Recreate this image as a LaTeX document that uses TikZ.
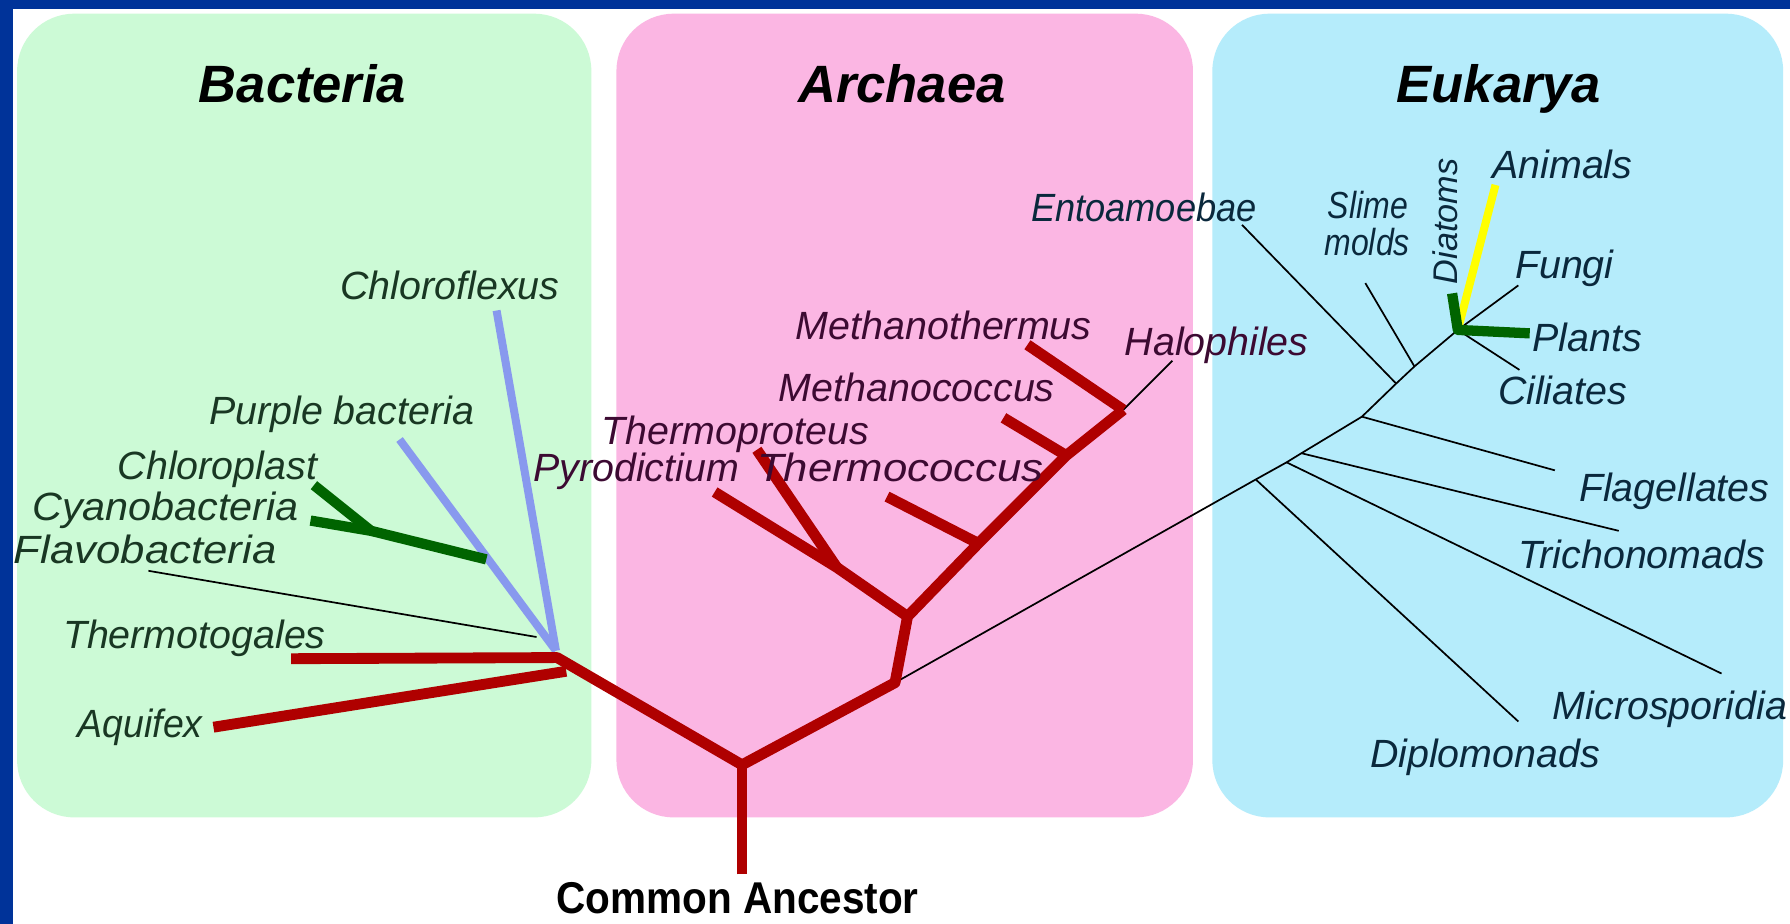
\documentclass[tikz,border=0pt]{standalone}
\usepackage{fontspec}
\setmainfont{Liberation Sans}
\definecolor{bordblue}{RGB}{0,51,153}
\definecolor{gpanel}{RGB}{204,250,214}
\definecolor{ppanel}{RGB}{251,182,227}
\definecolor{bpanel}{RGB}{181,236,251}
\definecolor{tred}{RGB}{175,0,0}
\definecolor{tblue}{RGB}{136,153,238}
\definecolor{tgreen}{RGB}{0,100,0}
\definecolor{tyellow}{RGB}{255,255,0}
\definecolor{bactxt}{RGB}{25,55,35}
\definecolor{arctxt}{RGB}{60,10,50}
\definecolor{euktxt}{RGB}{10,40,60}
\begin{document}
\begin{tikzpicture}[x=1pt,y=-1pt,
  lab/.style={font=\fontsize{34.5}{38}\selectfont\itshape, inner sep=0pt, anchor=base west},
  blab/.style={lab, text=bactxt},
  alab/.style={lab, text=arctxt},
  elab/.style={lab, text=euktxt},
  smalllab/.style={font=\fontsize{30}{33}\selectfont\itshape},
  slimelab/.style={font=\fontsize{33}{36}\selectfont\itshape},
  title/.style={font=\fontsize{46}{50}\selectfont\bfseries\itshape, inner sep=0pt, anchor=base},
  redline/.style={draw=tred, line width=9.5pt, line join=round},
  blueline/.style={draw=tblue, line width=7pt, line join=round},
  greenline/.style={draw=tgreen, line width=9pt, line join=round},
  yellowline/.style={draw=tyellow, line width=7pt},
  thin/.style={draw=black, line width=1.5pt},
  panel/.style={rounded corners=50pt}]
\useasboundingbox (0,0) rectangle (1568,809);
\fill[white] (0,0) rectangle (1568,809);
\fill[bordblue] (0,0) rectangle (1568,8);
\fill[bordblue] (0,0) rectangle (11,809);
% panels
\fill[gpanel, panel] (15,12) rectangle (518,716);
\fill[ppanel, panel] (540,12) rectangle (1045,716);
\fill[bpanel, panel] (1062,12) rectangle (1562,716);
% titles
\node[title] (tb) at (265,90) {Bacteria};
\node[title] (ta) at (790,90) {Archaea};
\node[title] (te) at (1313,90) {Eukarya};
\node[font=\fontsize{39}{42}\selectfont\bfseries, inner sep=0pt, anchor=base] (cat) at (646,800) {\scalebox{0.91}[1]{Common Ancestor}};
% coordinates
\coordinate (root) at (650,766);
\coordinate (ca) at (650,670);
\coordinate (bhub) at (488,576);
\coordinate (ttg) at (255,577);
\coordinate (aqf) at (187,637);
\coordinate (aqj) at (496,588);
\coordinate (flv) at (130,500);
\coordinate (flvj) at (470,558);
\coordinate (cfx) at (435,272);
\coordinate (ppl) at (350,385);
\coordinate (bj) at (487,570);
\coordinate (cyj) at (426,490);
\coordinate (cyf) at (325,465);
\coordinate (chlp) at (275,425);
\coordinate (cyan) at (272,456);
\coordinate (aek) at (784,598);
\coordinate (ay) at (795,540);
\coordinate (asplit) at (733,497);
\coordinate (pyro) at (626,431);
\coordinate (tprot) at (663,394);
\coordinate (tcj) at (857,476);
\coordinate (tct) at (777,435);
\coordinate (mcj) at (934,399);
\coordinate (mct) at (879,366);
\coordinate (atop) at (984,359);
\coordinate (mtt) at (900,302);
\coordinate (halo) at (1027,316);
\coordinate (ej1) at (1100,420);
\coordinate (ej2) at (1127,405);
\coordinate (ej3) at (1140,397);
\coordinate (ej4) at (1193,365);
\coordinate (ej5) at (1223,336);
\coordinate (ej6) at (1239,321);
\coordinate (ej7) at (1277,289);
\coordinate (dipl) at (1330,632);
\coordinate (micro) at (1508,590);
\coordinate (trich) at (1418,465);
\coordinate (flag) at (1362,412);
\coordinate (ento) at (1088,197);
\coordinate (slime) at (1196,248);
\coordinate (cil) at (1331,324);
\coordinate (fungi) at (1330,250);
\coordinate (plants) at (1340,292);
\coordinate (diat) at (1272,257);
\coordinate (anim) at (1310,162);
% thin black lines
\draw[thin] (aek) -- (ej1) -- (ej2) -- (ej3) -- (ej4) -- (ej5) -- (ej6) -- (ej7);
\draw[thin] (ej1) -- (dipl);
\draw[thin] (ej2) -- (micro);
\draw[thin] (ej3) -- (trich);
\draw[thin] (ej4) -- (flag);
\draw[thin] (ej5) -- (ento);
\draw[thin] (ej6) -- (slime);
\draw[thin] (ej7) -- (cil);
\draw[thin] (ej7) -- (fungi);
\draw[thin] (atop) -- (halo);
\draw[thin] (flv) -- (flvj);
% eukarya coloured
\draw[yellowline] (ej7) -- (anim);
\draw[greenline] (diat) -- (ej7) -- (plants);
% bacteria coloured
\draw[blueline] (cfx) -- (bj);
\draw[blueline] (ppl) -- (bj);
\draw[greenline] (chlp) -- (cyf);
\draw[greenline] (cyan) -- (cyf) -- (cyj);
% red tree
\draw[redline] (root) -- (ca);
\draw[redline] (ttg) -- (bhub) -- (ca) -- (aek) -- (ay) -- (tcj) -- (mcj) -- (atop);
\draw[redline] (aqf) -- (aqj);
\draw[redline] (ay) -- (asplit) -- (pyro);
\draw[redline] (asplit) -- (tprot);
\draw[redline] (tcj) -- (tct);
\draw[redline] (mcj) -- (mct);
\draw[redline] (atop) -- (mtt);
% bacteria labels
\node[blab] (lcfx) at (298,262) {Chloroflexus};
\node[blab] (lppl) at (183,372) {Purple bacteria};
\node[blab] (lchl) at (103,420) {Chloroplast};
\node[blab] (lcya) at (28,456) {\scalebox{1.05}[1]{Cyanobacteria}};
\node[blab] (lflv) at (12,494) {\scalebox{1.11}[1]{Flavobacteria}};
\node[blab] (lttg) at (55,568) {Thermotogales};
\node[blab] (laqf) at (68,646) {\scalebox{0.95}[1]{Aquifex}};
% archaea labels
\node[alab] (lmtt) at (697,297) {Methanothermus};
\node[alab] (lhal) at (985,311) {Halophiles};
\node[alab] (lmcc) at (682,352) {Methanococcus};
\node[alab] (ltpr) at (527,389) {Thermoproteus};
\node[alab] (lpyr) at (467,422) {Pyrodictium};
\node[alab] (ltcc) at (663,422) {\scalebox{1.11}[1]{Thermococcus}};
% eukarya labels
\node[elab] (lent) at (903,194) {\scalebox{0.92}[1]{Entoamoebae}};
\node[elab, slimelab] (lsl1) at (1163,191) {\scalebox{0.85}[1]{Slime}};
\node[elab, slimelab] (lsl2) at (1160,224) {\scalebox{0.85}[1]{molds}};
\node[elab, smalllab, anchor=center, rotate=90] (ldia) at (1266,194) {Diatoms};
\node[elab] (lani) at (1307,156) {Animals};
\node[elab] (lfun) at (1327,244) {Fungi};
\node[elab] (lpla) at (1342,308) {Plants};
\node[elab] (lcil) at (1312,354) {Ciliates};
\node[elab] (lfla) at (1383,439) {Flagellates};
\node[elab] (ltri) at (1330,498) {Trichonomads};
\node[elab] (lmic) at (1360,630) {Microsporidia};
\node[elab] (ldip) at (1200,672) {Diplomonads};
\end{tikzpicture}
\end{document}
